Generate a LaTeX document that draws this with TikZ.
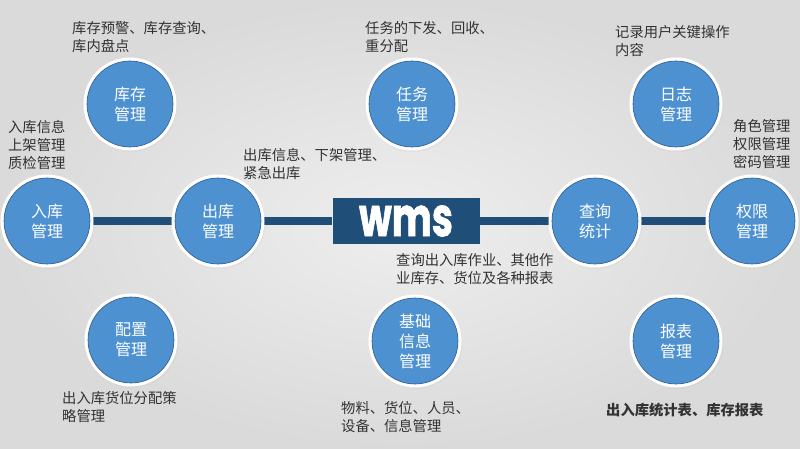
\documentclass[tikz,border=0pt]{standalone}
\usepackage{fontspec}
\newfontfamily\cjk{Noto Sans CJK SC}
\newfontfamily\wmsfont[BoldFeatures={FakeBold=1.6}]{Poppins}
\usetikzlibrary{shadows, backgrounds}
\definecolor{modulblue}{RGB}{77,145,209}
\definecolor{modulrand}{RGB}{45,90,140}
\definecolor{wmsnavy}{RGB}{31,78,121}
\definecolor{notizgrau}{RGB}{50,50,50}
\definecolor{bginnen}{RGB}{238,238,238}
\definecolor{bgaussen}{RGB}{218,218,218}

\begin{document}
\begin{tikzpicture}[x=1pt, y=-1pt,
	modul/.style={circle, minimum size=86pt, inner sep=0pt, fill=modulblue, draw=modulrand, line width=0.6pt,
		circular drop shadow={shadow scale=1.1, shadow xshift=0.5pt, shadow yshift=-1pt, opacity=0.2},
		preaction={draw=white, line width=7pt}, text=white, align=center, font=\cjk\fontsize{16}{20}\selectfont},
	notiz/.style={anchor=north west, inner sep=0pt, align=left, text=notizgrau, font=\cjk\fontsize{14.3}{18}\selectfont}]
	\useasboundingbox (0,0) rectangle (800,449);
	% module
	\node [modul] (kucun) at (130,104) {库存\\管理};
	\node [modul] (renwu) at (412,104) {任务\\管理};
	\node [modul] (rizhi) at (676,104) {日志\\管理};
	\node [modul] (ruku) at (47,221) {入库\\管理};
	\node [modul] (chuku) at (218,221) {出库\\管理};
	\node [modul] (chaxun) at (595,221) {查询\\统计};
	\node [modul] (quanxian) at (752,221) {权限\\管理};
	\node [modul] (peizhi) at (131,340) {配置\\管理};
	\node [modul] (jichu) at (415,341) {基础\\信息\\管理};
	\node [modul] (baobiao) at (676,341) {报表\\管理};
	\node [fill=wmsnavy, minimum width=147pt, minimum height=46pt, inner sep=0pt, text=white,
		font=\wmsfont\bfseries\fontsize{54}{54}\selectfont] (wms) at (406,221) {\scalebox{0.7}[1]{wms}};
	% texte
	\node [notiz] (kucuntext) at (72,21) {库存预警、库存查询、\\库内盘点};
	\node [notiz] (rukutext) at (8,120) {入库信息\\上架管理\\质检管理};
	\node [notiz] (chukutext) at (243,148) {出库信息、下架管理、\\紧急出库};
	\node [notiz] (renwutext) at (365,21) {任务的下发、回收、\\重分配};
	\node [notiz] (rizhitext) at (615,25) {记录用户关键操作\\内容};
	\node [notiz] (quanxiantext) at (733,119) {角色管理\\权限管理\\密码管理};
	\node [notiz] (chaxuntext) at (396,253) {查询出入库作业、其他作\\业库存、货位及各种报表};
	\node [notiz] (peizhitext) at (62,391) {出入库货位分配策\\略管理};
	\node [notiz] (jichutext) at (341,401) {物料、货位、人员、\\设备、信息管理};
	\node [notiz, text=black!80, font=\cjk\bfseries\fontsize{14.3}{18}\selectfont] (baobiaotext) at (606,403) {出入库统计表、库存报表};
	\begin{scope}[on background layer]
		\shade [inner color=bginnen, outer color=bgaussen] (0,0) rectangle (800,449);
		\draw [wmsnavy, line width=8pt] (ruku) -- (chuku) -- (wms) -- (chaxun) -- (quanxian);
	\end{scope}
\end{tikzpicture}
\end{document}
